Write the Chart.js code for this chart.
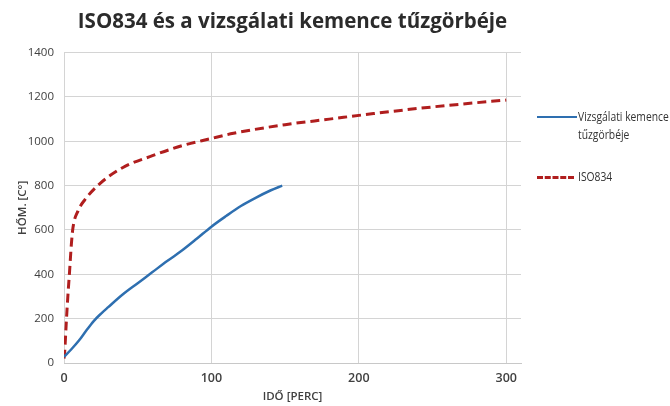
<!DOCTYPE html>
<html>
<head>
<meta charset="utf-8">
<script src="https://cdn.jsdelivr.net/npm/chart.js@4"></script>
<style>
  body { margin: 0; background: #fff; }
  #wrap { position: relative; width: 670px; height: 406px; }
  #legend { position: absolute; left: 537px; top: 108px; font-family: "Open Sans", sans-serif; font-size: 12px; color: #333; white-space: nowrap; }
  .item { position: relative; padding-left: 41px; line-height: 18px; }
  .item span { position: absolute; left: 0; top: 8px; width: 40px; height: 0; }
  .item b { display: inline-block; font-weight: normal; transform: scaleX(0.86); transform-origin: left center; }
</style>
</head>
<body>
<div id="wrap">
  <canvas id="chart" width="670" height="406"></canvas>
  <div id="legend">
    <div class="item"><span style="border-top: 2.5px solid #2e6fb0;"></span><b>Vizsgálati kemence<br>tűzgörbéje</b></div>
    <div class="item" style="margin-top: 24px;"><span style="border-top: 3px dashed #b01e1e; width: 37px;"></span><b>ISO834</b></div>
  </div>
</div>
<script>
// values
const kemenceTime = [0, 5, 10, 15, 20, 25, 30, 40, 50, 60, 70, 80, 90, 100, 110, 120, 130, 140, 148];
const kemenceTemp = [28, 62, 100, 145, 188, 222, 252, 310, 360, 410, 460, 507, 560, 615, 663, 708, 745, 778, 800];

const isoTime = [0, 0.5, 1.6, 2.7, 3.8, 5, 6.1, 9.5, 14, 24, 40, 60, 80, 99, 115, 150, 180, 210, 240, 270, 300];
const isoTemp = [20, 55, 190, 310, 415, 536, 611, 686, 735, 807, 882, 935, 980, 1011, 1036, 1075, 1100, 1125, 1148, 1168, 1186];

const xTicks = [0, 100, 200, 300];

const toPoints = (xs, ys) => xs.map((x, i) => ({ x: x, y: ys[i] }));

new Chart(document.getElementById("chart"), {
  type: "line",
  data: {
    datasets: [
      {
        label: "Vizsgálati kemence tűzgörbéje",
        data: toPoints(kemenceTime, kemenceTemp),
        borderColor: "#2e6fb0",
        borderWidth: 2.5,
        pointRadius: 0,
        cubicInterpolationMode: "monotone",
      },
      {
        label: "ISO834",
        data: toPoints(isoTime, isoTemp),
        borderColor: "#b01e1e",
        borderWidth: 3,
        borderDash: [9, 5],
        pointRadius: 0,
        cubicInterpolationMode: "monotone",
      },
    ],
  },
  options: {
    responsive: false,
    animation: false,
    layout: { padding: { left: 12, right: 149, bottom: 0 } },
    plugins: {
      legend: { display: false },
      tooltip: { enabled: false },
      title: {
        display: true,
        fullSize: false,
        text: "ISO834 és a vizsgálati kemence tűzgörbéje",
        color: "#2b2b2b",
        font: { family: "Open Sans", size: 20.5, weight: "bold" },
        padding: { top: 10, bottom: 18 },
      },
    },
    scales: {
      x: {
        type: "linear",
        min: 0,
        max: 310,
        afterBuildTicks: (axis) => { axis.ticks = xTicks.map((v) => ({ value: v })); },
        afterFit: (axis) => { axis.height = 43; },
        grid: { color: "#d4d4d4", drawTicks: false },
        border: { color: "#c8c8c8" },
        ticks: { color: "#404040", padding: 8, font: { family: "Open Sans", size: 12.5, weight: "600" } },
        title: { display: true, text: "IDŐ [PERC]", color: "#404040", padding: { top: 2, bottom: 2 }, font: { family: "Open Sans", size: 11.5, weight: "600" } },
      },
      y: {
        min: 0,
        max: 1400,
        afterFit: (axis) => { axis.width = 52; },
        ticks: { stepSize: 200, color: "#404040", padding: 10, font: { family: "Open Sans", size: 11.5 }, callback: (v) => String(v) },
        grid: { color: "#d4d4d4", drawTicks: false },
        border: { display: false },
        title: { display: true, text: "HŐM. [C°]", color: "#404040", padding: { bottom: 2 }, font: { family: "Open Sans", size: 11.5, weight: "600" } },
      },
    },
  },
});
</script>
</body>
</html>
